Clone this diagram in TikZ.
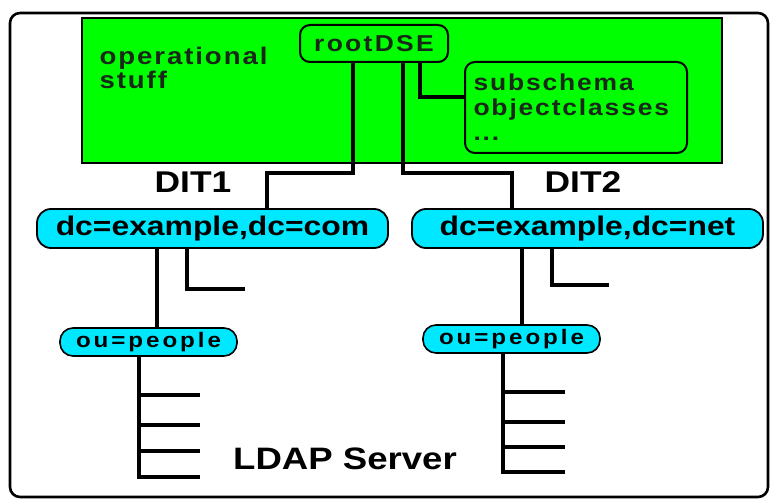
\documentclass[tikz,border=0pt]{standalone}
\usepackage{fontspec}
\setmainfont{Liberation Sans}[FakeStretch=1.18]
\newfontfamily\widefont{Liberation Sans}[FakeStretch=1.15,LetterSpace=8]
\newfontfamily\rootfont{Liberation Sans}[FakeStretch=1.15,LetterSpace=10]
\newfontfamily\oufont{Liberation Sans}[FakeStretch=1.15,LetterSpace=14]
\definecolor{opgreen}{RGB}{0,255,0}
\definecolor{dncyan}{RGB}{0,232,255}
\definecolor{optext}{RGB}{25,40,25}
\tikzset{
  wire/.style={line width=3.2pt},
  entry/.style={draw=black, line width=1.8pt, fill=dncyan, rounded corners=14pt,
    inner sep=0pt, font=\bfseries\fontsize{27}{30}\selectfont},
  ouentry/.style={draw=black, line width=1.6pt, fill=dncyan, rounded corners=13pt,
    inner sep=0pt, minimum width=177pt, minimum height=28pt,
    font=\oufont\bfseries\fontsize{21}{24}\selectfont},
  opbox/.style={draw=black, line width=2pt, fill=opgreen, rounded corners=10pt,
    inner sep=0pt, text=optext},
  title/.style={font=\bfseries\fontsize{30}{34}\selectfont, anchor=base},
}
\begin{document}
\begin{tikzpicture}[x=1pt, y=-1pt]
\useasboundingbox (0,0) rectangle (777,500);
% server frame and operational area
\draw[line width=2.6pt, rounded corners=10pt] (10,13) rectangle (768,497);
\node[draw=black, line width=1.8pt, fill=opgreen, minimum width=640pt, minimum height=145pt,
  inner sep=0pt] (ops) at (402,90.5) {};
\node[anchor=base west, align=left, text=optext, font=\widefont\bfseries\fontsize{24}{24}\selectfont]
  (optxt) at (96,89) {operational\\stuff};
% rootDSE and subschema
\node[opbox, minimum width=148pt, minimum height=37pt, font=\rootfont\bfseries\fontsize{23}{26}\selectfont]
  (root) at (374,43.5) {rootDSE};
\node[opbox, minimum width=222pt, minimum height=91pt, align=left, text width=205pt,
  font=\widefont\bfseries\fontsize{23}{25}\selectfont]
  (sub) at (576,107.5) {subschema\\objectclasses\\...};
% DIT titles
\node[title] (dit1) at (193,193) {DIT1};
\node[title] (dit2) at (583,193) {DIT2};
% naming contexts
\node[entry, minimum width=351pt, minimum height=39pt] (dccom) at (212.5,228.5) {dc=example,dc=com};
\node[entry, minimum width=351pt, minimum height=39pt] (dcnet) at (587.5,228.5) {dc=example,dc=net};
% organisational units
\node[ouentry] (oul) at (148.5,342) {ou=people};
\node[ouentry] (our) at (511.5,339) {ou=people};
% server label
\node[font=\bfseries\fontsize{31}{34}\selectfont, anchor=base] (srv) at (345,469) {LDAP Server};
% free ends of the tree branches
\coordinate (cstub) at (245,289);
\coordinate (nstub) at (609,285);
\coordinate (l1) at (200,395); \coordinate (l2) at (200,425);
\coordinate (l3) at (200,451); \coordinate (l4) at (200,477);
\coordinate (r1) at (565,392); \coordinate (r2) at (565,422);
\coordinate (r3) at (565,447); \coordinate (r4) at (565,472);
% connectors from rootDSE
\draw[wire] ([xshift=-21pt]root.south) -- (353,173) -- (267,173) -- (267,0 |- dccom.north);
\draw[wire] ([xshift=29pt]root.south) -- (403,173) -- (512,173) -- (512,0 |- dcnet.north);
\draw[wire] ([xshift=46pt]root.south) |- (sub.west |- 0,97);
% left tree
\draw[wire] (157,0 |- dccom.south) -- (157,0 |- oul.north);
\draw[wire] (187,0 |- dccom.south) |- (cstub);
\draw[wire] (139,0 |- oul.south) |- (l4);
\foreach \p in {l1,l2,l3} \draw[wire] (139,0 |- \p) -- (\p);
% right tree
\draw[wire] (522,0 |- dcnet.south) -- (522,0 |- our.north);
\draw[wire] (552,0 |- dcnet.south) |- (nstub);
\draw[wire] (503,0 |- our.south) |- (r4);
\foreach \p in {r1,r2,r3} \draw[wire] (503,0 |- \p) -- (\p);
\end{tikzpicture}
\end{document}
